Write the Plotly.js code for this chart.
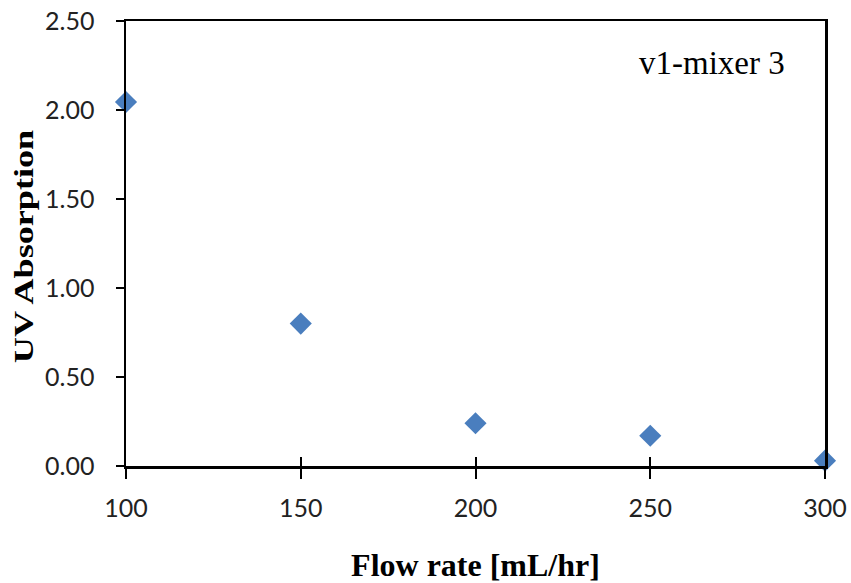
<!DOCTYPE html>
<html><head><meta charset="utf-8">
<script src="https://cdn.plot.ly/plotly-3.0.1.min.js"></script>
<style>body{margin:0;background:#fff}#c{width:851px;height:583px}</style>
</head><body><div id="c"></div>
<script>
const flowRate = [100, 150, 200, 250, 300];
const uvAbsorption = [2.045, 0.80, 0.24, 0.17, 0.03];
const xTicks = [100, 150, 200, 250, 300];
const yTicks = [0, 0.5, 1.0, 1.5, 2.0, 2.5];
const yTickLabels = ['0.00', '0.50', '1.00', '1.50', '2.00', '2.50'];

const tickFont = {family: 'Lato, "Open Sans", sans-serif', size: 25, color: '#222'};
const serif = '"Liberation Serif", "Times New Roman", serif';
const data = [
  {x: flowRate, y: uvAbsorption, type: 'scatter', mode: 'markers',
   marker: {symbol: 'diamond', size: 17, color: '#4A7EBE'}, cliponaxis: false, showlegend: false},
  {x: flowRate, y: uvAbsorption, xaxis: 'x2', type: 'scatter', mode: 'markers',
   marker: {opacity: 0}, hoverinfo: 'skip', showlegend: false}
];
const layout = {
  width: 851, height: 583,
  margin: {l: 126, r: 26, t: 21, b: 117},
  paper_bgcolor: '#fff', plot_bgcolor: '#fff',
  xaxis: {range: [100, 300], tickvals: xTicks, ticks: 'outside', ticklen: 10, tickwidth: 2,
    tickcolor: '#000', showline: true, linecolor: '#000', linewidth: 2.5, mirror: true,
    showgrid: false, zeroline: false, tickfont: tickFont, ticklabelstandoff: 8,
    title: {text: '<b>Flow rate [mL/hr]</b>', font: {family: serif, size: 32, color: '#000'}, standoff: 34}},
  xaxis2: {range: [100, 300], overlaying: 'x', tickvals: xTicks, ticks: 'inside', ticklen: 9,
    tickwidth: 2, tickcolor: '#000', showticklabels: false, showgrid: false, zeroline: false, side: 'bottom'},
  yaxis: {range: [0, 2.5], tickvals: yTicks, ticktext: yTickLabels, ticks: 'outside', ticklen: 8,
    tickwidth: 2, tickcolor: '#000', showline: true, linecolor: '#000', linewidth: 2.5, mirror: true,
    showgrid: false, zeroline: false, tickfont: tickFont, ticklabelstandoff: 16,
    title: {text: '<b>UV Absorption</b>', font: {family: serif, size: 27, color: '#000'}, standoff: 12}},
  annotations: [{text: 'v1-mixer 3', xref: 'paper', yref: 'paper', x: 0.946, y: 0.905,
    xanchor: 'right', yanchor: 'middle', showarrow: false,
    font: {family: serif, size: 33, color: '#000'}}]
};
Plotly.newPlot('c', data, layout, {staticPlot: true}).then(function (gd) {
  // the reference's y title is drawn stretched along its length
  const t = gd.querySelector('.ytitle');
  if (t) {
    const x = parseFloat(t.getAttribute('x')), y = parseFloat(t.getAttribute('y'));
    const tr = t.getAttribute('transform') || '';
    t.setAttribute('transform', 'translate(8,3) ' + tr + ' translate(' + x + ',' + y + ') scale(1.34,1) translate(' + (-x) + ',' + (-y) + ')');
  }
});
</script></body></html>
